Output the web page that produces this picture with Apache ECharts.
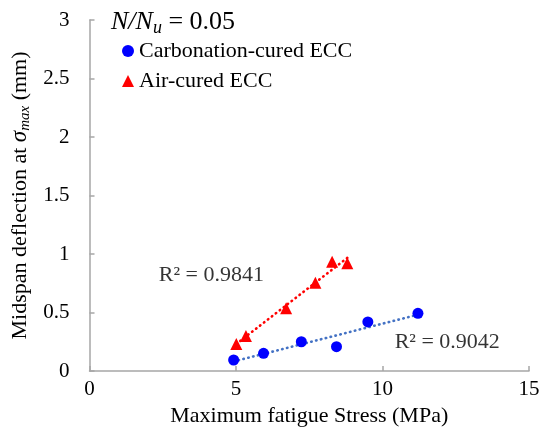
<!DOCTYPE html>
<html lang="en">
<head>
<meta charset="utf-8">
<title>Midspan deflection</title>
<style>
  *{padding:0;margin:0;}
  html,body,#chart{width:546px;height:432px;background:#fff;}
</style>
</head>
<body>
<div id="chart"></div>
<script src="https://cdn.jsdelivr.net/npm/echarts@6/dist/echarts.min.js"></script>
<script>
// values
var carbStress = [4.92, 5.94, 7.23, 8.43, 9.50, 11.21];
var carbDefl   = [0.094, 0.151, 0.25, 0.208, 0.419, 0.493];
var airStress  = [5.01, 5.34, 6.71, 7.71, 8.28, 8.80];
var airDefl    = [0.231, 0.30, 0.536, 0.755, 0.934, 0.92];
var seriesNames = ['Carbonation-cured ECC', 'Air-cured ECC'];
var r2Labels = ['R² = 0.9042', 'R² = 0.9841'];

var FONT = 'Liberation Serif';
var chart = echarts.init(document.getElementById('chart'));

function pairs(xs, ys) {
  var out = [];
  for (var i = 0; i < xs.length; i++) out.push([xs[i], ys[i]]);
  return out;
}
// linear least squares trendline over the data range
function trend(xs, ys) {
  var n = xs.length, sx = 0, sy = 0, sxx = 0, sxy = 0;
  for (var i = 0; i < n; i++) { sx += xs[i]; sy += ys[i]; sxx += xs[i] * xs[i]; sxy += xs[i] * ys[i]; }
  var b = (n * sxy - sx * sy) / (n * sxx - sx * sx);
  var a = (sy - b * sx) / n;
  var lo = Math.min.apply(null, xs), hi = Math.max.apply(null, xs);
  return [[lo, a + b * lo], [hi, a + b * hi]];
}

var option = {
  animation: false,
  textStyle: {fontFamily: FONT},
  grid: {left: 89.5, right: 17, top: 20, bottom: 61},
  legend: {
    orient: 'vertical',
    left: 117, top: 35,
    itemWidth: 12, itemHeight: 12, itemGap: 8,
    textStyle: {fontFamily: FONT, fontSize: 22, color: '#000'},
    data: [
      {name: seriesNames[0], icon: 'circle'},
      {name: seriesNames[1], icon: 'triangle'}
    ]
  },
  graphic: [{
    type: 'text', left: 111, top: 9,
    style: {
      text: '{i|N/N}{s|u}{n| = 0.05}',
      fontFamily: FONT, fontSize: 26, fill: '#000',
      rich: {
        i: {fontFamily: FONT, fontSize: 26, fontStyle: 'italic', fill: '#000'},
        s: {fontFamily: FONT, fontSize: 18, fontStyle: 'italic', fill: '#000', verticalAlign: 'bottom', padding: [12, 0, 0, 0]},
        n: {fontFamily: FONT, fontSize: 26, fill: '#000'}
      }
    }
  }],
  xAxis: {
    type: 'value', min: 0, max: 15, interval: 5,
    name: 'Maximum fatigue Stress (MPa)', nameLocation: 'middle', nameGap: 27,
    nameTextStyle: {fontFamily: FONT, fontSize: 22, color: '#000'},
    axisLine: {lineStyle: {color: '#a6a6a6', width: 1.5}},
    axisTick: {inside: true, length: 5, lineStyle: {color: '#a6a6a6', width: 1.5}},
    axisLabel: {fontFamily: FONT, fontSize: 21, color: '#000', margin: 8},
    splitLine: {show: false}
  },
  yAxis: {
    type: 'value', min: 0, max: 3, interval: 0.5,
    name: '{t|Midspan deflection at }{s|σ}{sub|max}{t| (mm)}', nameLocation: 'middle', nameGap: 39, nameRotate: 90,
    nameTextStyle: {
      fontFamily: FONT, fontSize: 22, color: '#000',
      rich: {
        t: {fontFamily: FONT, fontSize: 22, color: '#000'},
        s: {fontFamily: FONT, fontSize: 23, fontStyle: 'italic', color: '#000'},
        sub: {fontFamily: FONT, fontSize: 15, fontStyle: 'italic', color: '#000', verticalAlign: 'bottom', padding: [10, 0, 0, 0]}
      }
    },
    axisLine: {show: true, lineStyle: {color: '#a6a6a6', width: 1.5}},
    axisTick: {show: true, inside: true, length: 5, lineStyle: {color: '#a6a6a6', width: 1.5}},
    axisLabel: {fontFamily: FONT, fontSize: 21, color: '#000', margin: 20},
    splitLine: {show: false}
  },
  series: [
    {
      name: 'trendCarb', type: 'line', data: trend(carbStress, carbDefl),
      symbol: 'none', silent: true, z: 1,
      lineStyle: {color: '#4472c4', width: 2.6, type: [0.5, 4.5], cap: 'round'}
    },
    {
      name: 'trendAir', type: 'line', data: trend(airStress, airDefl),
      symbol: 'none', silent: true, z: 1,
      lineStyle: {color: '#ff0000', width: 2.6, type: [0.5, 4.5], cap: 'round'}
    },
    {
      name: seriesNames[0], type: 'scatter', data: pairs(carbStress, carbDefl),
      symbol: 'circle', symbolSize: 11, z: 3,
      itemStyle: {color: '#0000ff', opacity: 1}
    },
    {
      name: seriesNames[1], type: 'scatter', data: pairs(airStress, airDefl),
      symbol: 'triangle', symbolSize: 12, z: 3,
      itemStyle: {color: '#ff0000', opacity: 1}
    },
    {
      name: 'r2', type: 'scatter', symbol: 'circle', symbolSize: 1, silent: true, z: 4,
      itemStyle: {color: 'rgba(0,0,0,0)'},
      data: [
        {value: [12.21, 0.25], label: {formatter: r2Labels[0]}},
        {value: [4.16, 0.82], label: {formatter: r2Labels[1]}}
      ],
      label: {show: true, position: 'inside', fontFamily: FONT, fontSize: 22, color: '#000'}
    }
  ]
};
chart.setOption(option);
</script>
</body>
</html>
